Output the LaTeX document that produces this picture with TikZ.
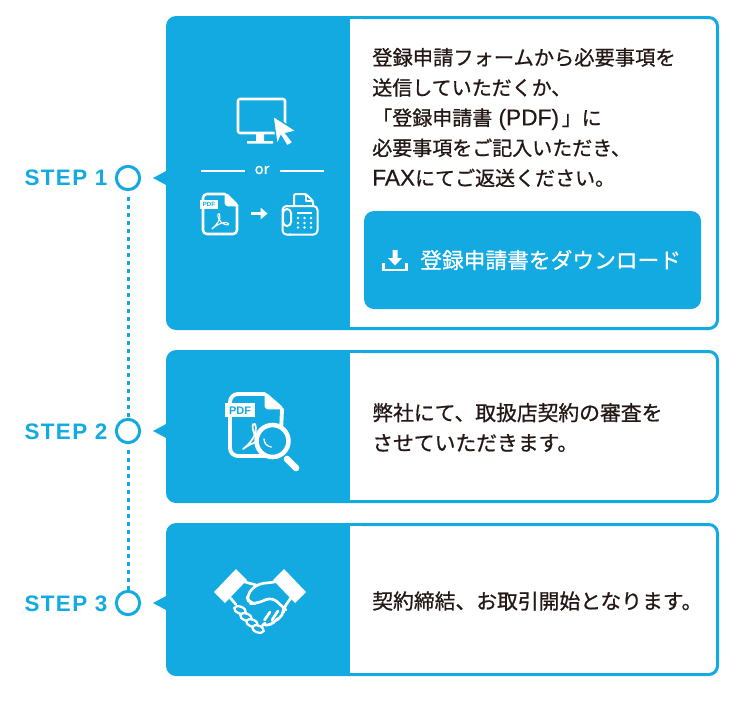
\documentclass[tikz,border=0pt]{standalone}
\usepackage{fontspec}
\setmainfont{Liberation Sans}
\newfontfamily\jp[FakeBold=0.8]{Noto Sans CJK JP}
\newfontfamily\lat[FakeBold=0.4]{Liberation Sans}
\newfontfamily\stepfont[LetterSpace=6]{Liberation Sans}
\newfontfamily\plainbold{Liberation Sans}
\definecolor{brand}{HTML}{13A9E1}
\definecolor{ink}{HTML}{231815}
\newcommand{\latin}[1]{{\lat\fontsize{17}{22.6}\selectfont #1}}
\tikzset{
  panelbox/.style={draw=brand,line width=2.25pt,rounded corners=6.5pt,fill=white},
  stepring/.style={circle,draw=brand,line width=2.25pt,minimum size=17.5pt,inner sep=0pt,fill=white},
  steplabel/.style={anchor=east,inner sep=0pt,text=brand,font=\stepfont\bfseries\fontsize{16.8}{16}\selectfont},
  bodytext/.style={anchor=west,inner sep=0pt,align=left,text=ink,font=\jp\fontsize{15}{22.6}\selectfont},
  bodytextb/.style={bodytext,font=\jp\fontsize{15.6}{22.6}\selectfont},
  icon/.style={draw=white,line width=1.9pt,line join=round,line cap=round},
  iconthin/.style={draw=white,line width=1.5pt,line join=round,line cap=round},
  shake/.style={draw=white,line width=2pt,line join=round,line cap=round},
  dotline/.style={draw=brand,line width=2.25pt,dash pattern=on 3pt off 3pt},
}
\begin{document}
\begin{tikzpicture}[x=0.75pt,y=-0.75pt]
\useasboundingbox (0,0) rectangle (750,704);
% panels
\foreach \t/\b in {17.5/328.5,351.5/501.5,524.5/674.5}{
  \draw[panelbox] (167.5,\t) rectangle (717.5,\b);
  \fill[brand,rounded corners=6.5pt] (167.5,\t) rectangle (358,\b);
  \fill[white] (350,\t+1.2) rectangle (362,\b-1.2);
}
% triangles
\foreach \y in {178,431,603}{
  \fill[brand] (153,\y) -- (167,\y-7.5) -- (167,\y+7.5) -- cycle;
}
% steps
\node[stepring] (s1) at (128,178) {};
\node[stepring] (s2) at (128,431) {};
\node[stepring] (s3) at (128,603) {};
\draw[dotline] ([yshift=-4pt]s1.south) -- (s2.north);
\draw[dotline] ([yshift=-4pt]s2.south) -- (s3.north);
\node[steplabel] (l1) at (107.5,177.5) {STEP 1};
\node[steplabel] (l2) at (107.5,431.5) {STEP 2};
\node[steplabel] (l3) at (107.5,603.5) {STEP 3};
% body texts
\node[bodytext] (t1) at (372,117.5) {{\fontsize{15.2}{22.6}\selectfont 登録申請フォームから必要事項を}\\送信していただくか、\\「登録申請書\latin{ (PDF)}\hspace{2pt}」に\\必要事項をご記入いただき、\\\latin{FAX}にてご返送ください。};
\node[bodytextb] (t2) at (372,427.5) {弊社にて、取扱店契約の審査を\\させていただきます。};
\node[bodytextb] (t3) at (372,601) {契約締結、お取引開始となります。};
% button
\fill[brand,rounded corners=7.5pt] (364,211) rectangle (701,309);
\node[anchor=west,inner sep=0pt,text=white,font=\jp\fontsize{16.3}{20}\selectfont] (b) at (420,260) {登録申請書をダウンロード};
\draw[white,line width=1.9pt] (383.5,263) -- (383.5,270) -- (406.5,270) -- (406.5,263);
\fill[white] (392.5,250) rectangle (397.5,258) (388,258) -- (402,258) -- (395,265.5) -- cycle;
% monitor icon
\draw[icon,rounded corners=1.5pt] (238,99) rectangle (285,133);
\fill[white] (256,133) rectangle (264,142) (247,141) rectangle (273,143.5);
\fill[white,draw=brand,line width=1pt,line join=miter] (273,116) -- (296.5,131) -- (286,133.5) -- (293,142.5) -- (287,146) -- (281,136) -- (277,145) -- cycle;
% or
\node[text=white,inner sep=0pt,font=\jp\fontsize{11}{12}\selectfont] (or) at (262,170) {or};
\draw[white,line width=1pt] (201,171) -- (245,171) (280,171) -- (324,171);
% pdf small
\draw[icon,rounded corners=3pt] (225,194) -- (203,194) -- (203,234) -- (237,234) -- (237,205);
\draw[icon,rounded corners=1pt,fill=white] (226,194) -- (226,205) -- (237,205) -- cycle;
\fill[white] (200,200) rectangle (218,208.5);
\node[text=brand,inner sep=0pt,font=\plainbold\bfseries\fontsize{4.6}{5}\selectfont] (pdfa) at (209,204.5) {PDF};
\draw[draw=white,line width=.8pt,line join=round] (212,229) .. controls (216,225) and (222,219) .. (219.5,214) .. controls (217,212) and (217,218) .. (221,222) .. controls (224,225) and (230,226) .. (228.5,223.5) .. controls (227,221) and (218,223) .. (212,229) -- cycle;
% arrow
\draw[white,line width=1.9pt] (251,213.5) -- (263,213.5);
\fill[white] (267.5,213.5) -- (260.5,207.5) -- (260.5,219.5) -- cycle;
% fax
\draw[iconthin,rounded corners=1.5pt] (294,206) -- (294,194) -- (306,194) -- (313,201) -- (313,206);
\draw[iconthin,line width=1.1pt] (306,194) -- (306,201) -- (313,201);
\draw[iconthin,rounded corners=3pt] (290,206) -- (317.5,206) -- (317.5,234.5) -- (289,234.5);
\draw[iconthin,rounded corners=3pt] (291,206) -- (282.5,206) -- (282.5,234.5) -- (291,234.5);
\draw[iconthin,rounded corners=3pt] (283,209) rectangle (291,226);
\draw[white,line width=1.2pt] (297,213) -- (312,213);
\foreach \x in {298,304.5,311}{\foreach \y in {218,223,227.5}{\fill[white] (\x,\y) circle (1.3);}}
% pdf large
\draw[icon,line width=2.9pt,rounded corners=6pt] (265,394) -- (230,394) -- (230,456) -- (280,456) -- (282,409);
\draw[icon,rounded corners=1pt,fill=white] (266,394) -- (266,408) -- (282,408) -- cycle;
\fill[white] (225,403) rectangle (255,417);
\node[text=brand,inner sep=0pt,font=\plainbold\bfseries\fontsize{8.2}{9}\selectfont] (pdfb) at (240,410.5) {PDF};
\draw[draw=white,line width=1.3pt,line join=round] (243,449) .. controls (250,444) and (259,433) .. (255,424) .. controls (251,421) and (252,433) .. (258,440) .. controls (262,443) and (272,447) .. (270,442) .. controls (266,438) and (252,442) .. (243,449) -- cycle;
\draw[white,line width=3.4pt,fill=brand] (272.5,441) circle (16);
\draw[white,line width=1pt,line cap=round] (264,439) arc[start angle=180,end angle=95,radius=8];
\draw[white,line width=5pt,line cap=round] (287,459) -- (296,468);
% handshake
\fill[white] (214,592) -- (236,569) -- (247,580) -- (225,603) -- cycle;
\fill[white] (306,592) -- (284,569) -- (273,580) -- (295,603) -- cycle;
\draw[shake] (245,582) -- (256,585);
\draw[shake,rounded corners=5pt] (275,582) -- (257,584) -- (246.5,595) -- (249,603.5) -- (257,603.5) -- (272,597) -- (286,610);
\draw[shake,rounded corners=3pt] (291.5,597) -- (283.5,608.5) -- (283.5,612) -- (280,618.5) -- (275,620) -- (271.5,625) -- (265,625);
\draw[shake] (265,623) -- (257,631);
\draw[shake] (229.5,597) -- (236,604.5);
\foreach \a/\b in {240/610,246/617,252/623,258/629}{
  \draw[draw=white,line width=1.7pt,fill=brand,rotate around={-20:(\a,\b)}] (\a,\b) ellipse (6 and 3.4);
}
\draw[shake] (270,612) -- (264.5,620);
\draw[shake] (278,611) -- (272,620);
\end{tikzpicture}
\end{document}
